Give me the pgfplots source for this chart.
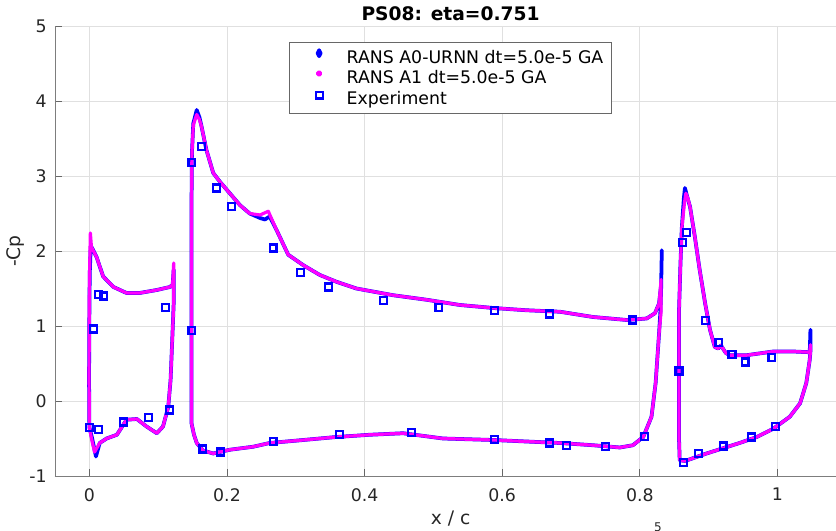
\documentclass[border=0pt]{standalone}
\usepackage{pgfplots}
\pgfplotsset{compat=1.18}
\usepackage{fontspec}
\setmainfont{DejaVu Sans}
\definecolor{mblue}{rgb}{0,0,1}
\definecolor{mmag}{rgb}{1,0,1}
\definecolor{axgray}{rgb}{0.15,0.15,0.15}
\begin{document}
\begin{tikzpicture}
\begin{axis}[
  scale only axis, width=593.4pt, height=337.5pt,
  at={(0pt,0pt)}, anchor=south west,
  xmin=-0.05, xmax=1.1, ymin=-1, ymax=5,
  axis lines*=left,
  axis line style={axgray!60, line width=0.5pt},
  grid=major, grid style={black!12, line width=0.5pt},
  xtick={0,0.2,0.4,0.6,0.8,1}, xticklabels={0,0.2,0.4,0.6,0.8,1},
  ytick={-1,0,1,2,3,4,5}, yticklabels={-1,0,1,2,3,4,5},
  tick align=inside, major tick length=5pt,
  tick style={axgray!70, line width=0.5pt},
  ticklabel style={font=\fontsize{13}{15}\selectfont, text=axgray},
  xticklabel style={inner sep=0pt, anchor=north, yshift=-9pt},
  yticklabel style={inner sep=0pt, anchor=east, xshift=-6pt},
  title={\textbf{PS08: eta=0.751}},
  title style={font=\fontsize{14}{16}\selectfont, at={(axis description cs:0.5,1)}, anchor=base, yshift=-2pt, inner sep=0pt},
  xlabel={x / c}, ylabel={-Cp},
  label style={font=\fontsize{14}{16}\selectfont, text=axgray},
  xlabel style={at={(axis description cs:0.5,0)}, anchor=base, yshift=-36.75pt, inner sep=0pt},
  ylabel style={at={(axis description cs:-0.0433,0.5)}, anchor=base, inner sep=0pt},
  unbounded coords=jump,
  legend style={at={(axis description cs:0.2958,0.9644)}, anchor=north west,
    font=\fontsize{13}{15}\selectfont, draw=axgray!70, line width=0.5pt, fill=white,
    inner xsep=5.8pt, inner ysep=4.5pt, row sep=3.8pt,
    nodes={inner xsep=0pt, inner ysep=0pt}},
  legend cell align=left,
]
% RANS A0-URNN (blue)
\addplot[mblue, line width=2.8pt, line join=round, line cap=round,
  legend image code/.code={\path[draw=none] (0pt,0pt) -- (37.2pt,0pt);
    \fill[mblue] (16.5pt,5.5pt) -- (17.6pt,3.25pt) -- (16.5pt,1pt) -- (15.4pt,3.25pt) -- cycle;}]
coordinates {
(0.002,2.07) (0.005,2.02) (0.0104,1.92) (0.02,1.66) (0.035,1.52) (0.054,1.44) (0.073,1.44)
(0.098,1.48) (0.117,1.52) (0.121,1.55) (0.1225,1.75) (0.1225,1.3) (0.121,0.95) (0.118,0.28)
(0.1146,-0.08) (0.107,-0.34) (0.098,-0.43) (0.083,-0.34) (0.069,-0.24) (0.054,-0.25) (0.04,-0.45)
(0.025,-0.50) (0.015,-0.56) (0.0095,-0.74) (0.004,-0.50) (0.0,-0.35) (-0.0005,0.3) (0.0,1.2)
(0.0005,1.7) (0.002,2.07)
(0.1,nan)
(0.1485,-0.30) (0.1485,0.5) (0.1485,1.5) (0.1485,2.7) (0.149,3.3) (0.151,3.7) (0.156,3.88)
(0.160,3.78) (0.163,3.66) (0.170,3.35) (0.18,3.04) (0.19,2.92) (0.204,2.77) (0.219,2.61)
(0.233,2.50) (0.248,2.44) (0.255,2.42) (0.262,2.46) (0.272,2.28) (0.289,1.95) (0.311,1.81)
(0.335,1.68) (0.359,1.59) (0.388,1.50) (0.4416,1.41) (0.49,1.35) (0.5385,1.28) (0.587,1.24)
(0.635,1.21) (0.684,1.19) (0.732,1.12) (0.781,1.08) (0.81,1.10) (0.822,1.17) (0.828,1.30)
(0.831,1.55) (0.832,2.01) (0.831,1.5) (0.830,1.2) (0.828,0.9) (0.823,0.24) (0.817,-0.21)
(0.805,-0.48) (0.79,-0.59) (0.771,-0.62) (0.732,-0.59) (0.684,-0.56) (0.635,-0.54) (0.587,-0.52)
(0.514,-0.50) (0.456,-0.43) (0.408,-0.45) (0.359,-0.48) (0.311,-0.52) (0.262,-0.56) (0.238,-0.61)
(0.204,-0.65) (0.18,-0.70) (0.165,-0.66) (0.156,-0.56) (0.152,-0.45) (0.1485,-0.30)
(0.85,nan)
(0.8656,-0.80) (0.858,-0.79) (0.857,-0.5) (0.857,0.4) (0.857,1.2) (0.859,1.8) (0.861,2.3)
(0.864,2.7) (0.8656,2.84) (0.869,2.72) (0.873,2.59) (0.880,2.19) (0.887,1.75) (0.895,1.30)
(0.902,0.95) (0.909,0.72) (0.914,0.70) (0.918,0.74) (0.925,0.64) (0.931,0.61) (0.955,0.61)
(0.994,0.66) (1.023,0.66) (1.047,0.65) (1.048,0.95) (1.048,0.66) (1.047,0.55) (1.042,0.24)
(1.033,-0.03) (1.018,-0.21) (0.994,-0.37) (0.97,-0.48) (0.945,-0.56) (0.921,-0.63) (0.897,-0.70)
(0.8656,-0.80)
};
\addlegendentry{RANS A0-URNN dt=5.0e-5 GA}
% RANS A1 (magenta)
\addplot[mmag, line width=2.4pt, line join=round, line cap=round,
  legend image code/.code={\path[draw=none] (0pt,0pt) -- (37.2pt,0pt);
    \fill[mmag] (16.5pt,3.25pt) circle (1.3pt);}]
coordinates {
(0.0,1.6) (0.0014,2.24) (0.003,2.05) (0.0104,1.92) (0.02,1.66) (0.035,1.52) (0.054,1.44) (0.073,1.44)
(0.098,1.48) (0.117,1.52) (0.121,1.55) (0.1225,1.84) (0.1225,1.3) (0.121,0.95) (0.118,0.28)
(0.1146,-0.08) (0.107,-0.34) (0.098,-0.43) (0.083,-0.34) (0.069,-0.24) (0.054,-0.25) (0.04,-0.45)
(0.025,-0.50) (0.015,-0.56) (0.0075,-0.68) (0.003,-0.50) (0.0,-0.35) (-0.0005,0.3) (0.0,1.6)
(0.1,nan)
(0.1485,-0.30) (0.1485,0.5) (0.1485,1.5) (0.1485,2.7) (0.149,3.3) (0.151,3.68) (0.156,3.82)
(0.160,3.75) (0.163,3.66) (0.170,3.35) (0.18,3.04) (0.19,2.92) (0.204,2.77) (0.219,2.61)
(0.233,2.50) (0.248,2.48) (0.26,2.53) (0.272,2.28) (0.289,1.95) (0.311,1.81)
(0.335,1.68) (0.359,1.59) (0.388,1.50) (0.4416,1.41) (0.49,1.35) (0.5385,1.28) (0.587,1.24)
(0.635,1.21) (0.684,1.19) (0.732,1.12) (0.781,1.08) (0.81,1.10) (0.822,1.17) (0.828,1.30)
(0.831,1.62) (0.831,1.2) (0.828,0.9) (0.823,0.24) (0.817,-0.21)
(0.805,-0.48) (0.79,-0.59) (0.771,-0.62) (0.732,-0.59) (0.684,-0.56) (0.635,-0.54) (0.587,-0.52)
(0.514,-0.50) (0.456,-0.43) (0.408,-0.45) (0.359,-0.48) (0.311,-0.52) (0.262,-0.56) (0.238,-0.61)
(0.204,-0.65) (0.18,-0.70) (0.165,-0.66) (0.156,-0.56) (0.152,-0.45) (0.1485,-0.30)
(0.85,nan)
(0.8656,-0.80) (0.858,-0.79) (0.857,-0.5) (0.857,0.4) (0.857,1.2) (0.859,1.8) (0.861,2.3)
(0.865,2.65) (0.867,2.77) (0.870,2.70) (0.873,2.59) (0.880,2.19) (0.887,1.75) (0.895,1.30)
(0.902,0.95) (0.909,0.72) (0.914,0.70) (0.918,0.74) (0.925,0.64) (0.931,0.61) (0.955,0.61)
(0.994,0.66) (1.023,0.66) (1.047,0.65) (1.048,0.75) (1.048,0.66) (1.047,0.55) (1.042,0.24)
(1.033,-0.03) (1.018,-0.21) (0.994,-0.37) (0.97,-0.48) (0.945,-0.56) (0.921,-0.63) (0.897,-0.70)
(0.8656,-0.80)
};
\addlegendentry{RANS A1 dt=5.0e-5 GA}
% Experiment
\addplot[only marks, mark=square, mark size=2.6pt, mblue, line width=1.6pt,
  legend image code/.code={\path[draw=none] (0pt,0pt) -- (37.2pt,0pt);
    \draw[mblue, line width=1.6pt] (13.9pt,0.65pt) rectangle (19.1pt,5.85pt);}]
coordinates {
(0.0,-0.35) (0.013,-0.38) (0.0056,0.96) (0.013,1.42) (0.02,1.40) (0.05,-0.28) (0.086,-0.22)
(0.117,-0.12) (0.111,1.25)
(0.149,3.18) (0.163,3.39) (0.185,2.84) (0.206,2.59) (0.267,2.04) (0.307,1.71) (0.347,1.52)
(0.428,1.34) (0.508,1.25) (0.589,1.21) (0.669,1.16) (0.79,1.08) (0.149,0.94) (0.165,-0.64)
(0.19,-0.68) (0.267,-0.54) (0.363,-0.45) (0.468,-0.42) (0.589,-0.51) (0.669,-0.56) (0.694,-0.59)
(0.750,-0.61) (0.807,-0.47)
(0.862,2.11) (0.868,2.25) (0.857,0.40) (0.896,1.07) (0.915,0.78) (0.934,0.62) (0.953,0.52)
(0.992,0.58) (0.864,-0.82) (0.885,-0.70) (0.921,-0.60) (0.962,-0.48) (0.997,-0.34)
};
\addlegendentry{Experiment}
\end{axis}
\node[anchor=north, inner sep=0pt, font=\fontsize{9}{10}\selectfont, text=axgray] at (452.25pt,-34.5pt) {5};
\pgfresetboundingbox
\useasboundingbox (-41.25pt,-41.25pt) rectangle (585.75pt,357pt);
\end{tikzpicture}
\end{document}
